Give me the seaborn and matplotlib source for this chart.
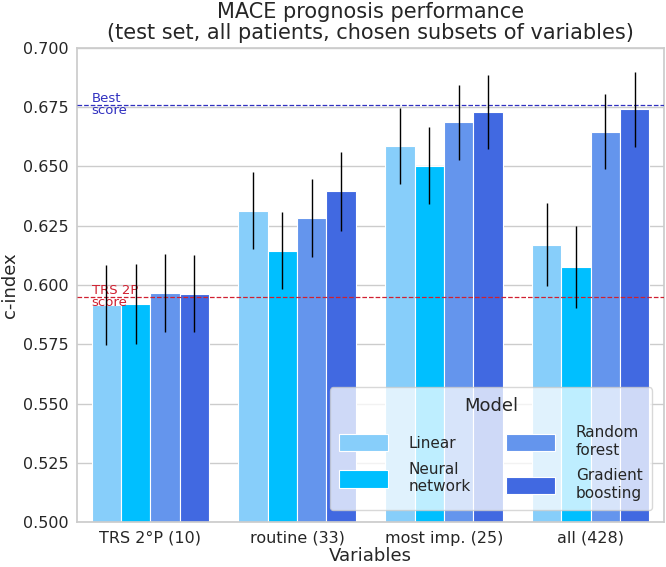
import matplotlib
matplotlib.use('Agg')
import matplotlib.pyplot as plt
import seaborn as sns
import pandas as pd
import numpy as np

# data
subsets = ['TRS 2°P (10)', 'routine (33)', 'most imp. (25)', 'all (428)']
models = ['Linear', 'Neural\nnetwork', 'Random\nforest', 'Gradient\nboosting']
c_linear = [0.5916, 0.6312, 0.6586, 0.6170]
c_neural = [0.5920, 0.6145, 0.6503, 0.6075]
c_forest = [0.5966, 0.6281, 0.6685, 0.6646]
c_boost = [0.5963, 0.6394, 0.6729, 0.6740]
err_linear = [0.0170, 0.0162, 0.0160, 0.0175]
err_neural = [0.0168, 0.0163, 0.0163, 0.0172]
err_forest = [0.0165, 0.0165, 0.0157, 0.0158]
err_boost = [0.0163, 0.0165, 0.0157, 0.0157]
best_score = 0.6757
trs_score = 0.5948

palette = ['#87CEFA', '#00BFFF', '#6495ED', '#4169E1']

rows = []
for m, vals, errs in zip(models, [c_linear, c_neural, c_forest, c_boost],
                         [err_linear, err_neural, err_forest, err_boost]):
    for s, v, e in zip(subsets, vals, errs):
        rows.append({'Variables': s, 'Model': m, 'c-index': v, 'err': e})
df = pd.DataFrame(rows)

sns.set_theme(style='whitegrid')
fig, ax = plt.subplots(figsize=(6.66, 5.67), dpi=100)

sns.barplot(data=df, x='Variables', y='c-index', hue='Model', palette=palette,
            saturation=1, errorbar=None, edgecolor='white', linewidth=0.8, ax=ax)

# error bars at the bar centres
for cont, m in zip(ax.containers, models):
    sub = df[df['Model'] == m]
    xs = [p.get_x() + p.get_width() / 2 for p in cont.patches]
    ax.errorbar(xs, sub['c-index'].values, yerr=sub['err'].values,
                fmt='none', ecolor='black', elinewidth=1, capsize=0, zorder=5)

ax.axhline(best_score, color='#3030c0', ls='--', lw=0.9, zorder=4)
ax.axhline(trs_score, color='#d02030', ls='--', lw=0.9, zorder=4)
ax.text(-0.4, best_score + 0.0003, 'Best\nscore', color='#3030c0', fontsize=9.5,
        va='center', ha='left', linespacing=0.85)
ax.text(-0.4, trs_score + 0.0003, 'TRS 2P\nscore', color='#d02030', fontsize=9.5,
        va='center', ha='left', linespacing=0.85)

ax.set_ylim(0.5, 0.7)
ax.set_xlim(-0.5, 3.5)
ax.set_yticks(np.arange(0.5, 0.7001, 0.025))
ax.set_yticklabels([f'{t:.3f}' for t in np.arange(0.5, 0.7001, 0.025)])
ax.tick_params(labelsize=11.5, length=0, pad=6)
ax.set_xlabel('Variables', fontsize=13, labelpad=1)
ax.set_ylabel('c-index', fontsize=13, labelpad=3)
ax.set_title('MACE prognosis performance\n(test set, all patients, chosen subsets of variables)',
             fontsize=15, linespacing=1.1)

leg = ax.legend(title='Model', ncol=2, loc='lower right', fontsize=11,
                title_fontsize=13, handlelength=3.2, handleheight=1.4,
                framealpha=0.75, borderpad=0.6, columnspacing=2.3,
                labelspacing=0.7, handletextpad=1.35, borderaxespad=0.8)

fig.subplots_adjust(left=0.1156, right=0.997, top=0.916, bottom=0.079)
fig.savefig('out.png', dpi=100)
